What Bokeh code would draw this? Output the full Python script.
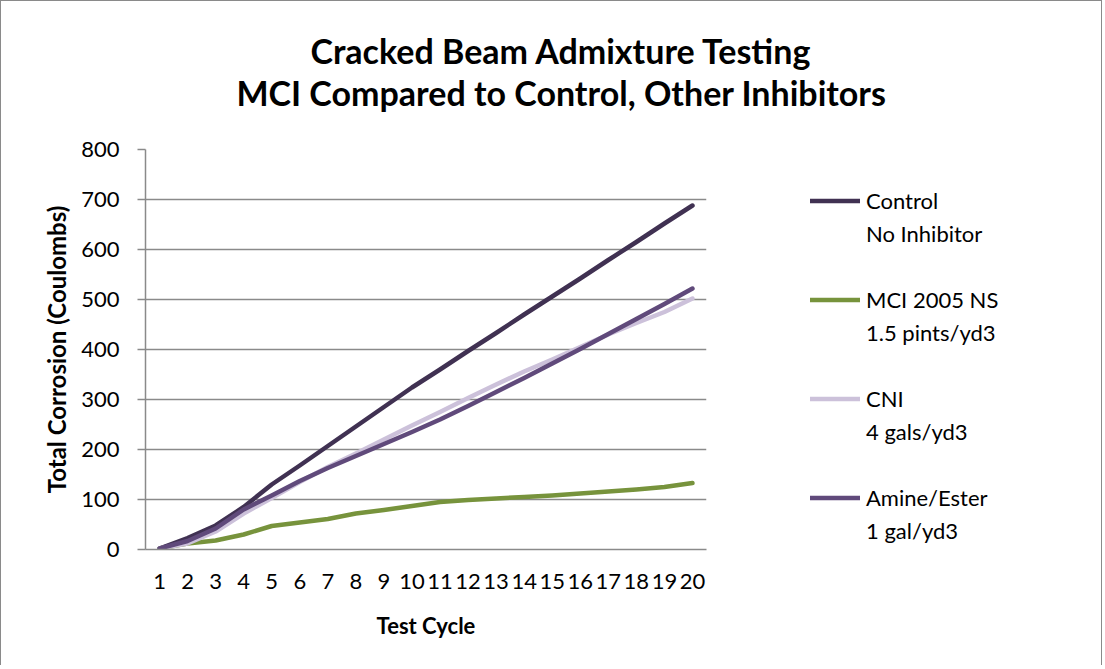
from bokeh.plotting import figure
from bokeh.layouts import column, row
from bokeh.models import (Range1d, FactorRange, Legend, LegendItem, FixedTicker,
                          ColumnDataSource, Label)
from bokeh.embed import file_html
from bokeh.resources import INLINE

cycles = [str(i) for i in range(1, 21)]
control = [2, 23, 48, 85, 130, 168, 207, 246, 285, 324, 360, 397, 433, 470, 506, 542, 579, 615, 652, 688]
mci = [2, 12, 18, 30, 47, 54, 61, 72, 79, 87, 95, 99, 102, 105, 108, 112, 116, 120, 125, 133]
cni = [2, 12, 36, 72, 103, 135, 165, 192, 220, 248, 275, 303, 330, 356, 380, 405, 430, 453, 475, 502]
amine = [2, 17, 42, 80, 108, 137, 163, 187, 211, 235, 260, 287, 315, 343, 372, 401, 431, 461, 491, 522]

series = [control, mci, cni, amine]
label_line1 = ["Control", "MCI 2005 NS", "CNI", "Amine/Ester"]
label_line2 = ["No Inhibitor", "1.5 pints/yd3", "4 gals/yd3", "1 gal/yd3"]
colors = ["#403152", "#77933C", "#CCC1DA", "#604A7B"]
y_ticks = [0, 100, 200, 300, 400, 500, 600, 700, 800]
title1 = "Cracked Beam Admixture Testing"
title2 = "MCI Compared to Control, Other Inhibitors"

FONT = "Lato"
BORDER = "1px solid #8a8a8a"
TOTAL_W = 1102
TITLE_H = 120
MAIN_W, MAIN_H = 760, 545
FL, FT, FW, FH = 144, 29, 561, 400
FB = MAIN_H - FT - FH

# ---------- title strip ----------
ft = figure(width=TOTAL_W, height=TITLE_H, x_range=Range1d(0, TOTAL_W), y_range=Range1d(0, TITLE_H),
            x_axis_type=None, y_axis_type=None, output_backend="svg", toolbar_location=None,
            min_border=0)
ft.outline_line_color = None
ft.styles = {"border-top": BORDER, "border-left": BORDER, "border-right": BORDER}
for txt, yy in ((title1, 71), (title2, 29)):
    ft.add_layout(Label(x=560, y=yy, text=txt, text_align="center", text_baseline="middle",
                        text_font=FONT, text_font_style="bold", text_font_size="34px",
                        text_color="black"))

# ---------- main chart ----------
p = figure(width=MAIN_W, height=MAIN_H, x_range=FactorRange(*cycles), y_range=Range1d(0, 800),
           output_backend="svg", toolbar_location=None,
           min_border_left=FL, min_border_top=FT,
           min_border_right=MAIN_W - FL - FW, min_border_bottom=FB)
p.styles = {"border-left": BORDER}
p.outline_line_color = None

for vals, col in zip(series, colors):
    src = ColumnDataSource(dict(x=cycles, y=vals))
    p.line("x", "y", source=src, line_color=col, line_width=4.5,
           line_join="round", line_cap="round")

p.xaxis.axis_label = "Test Cycle"
p.yaxis.axis_label = "Total Corrosion (Coulombs)"
for ax in (p.xaxis[0], p.yaxis[0]):
    ax.axis_label_text_font = FONT
    ax.axis_label_text_font_style = "bold"
    ax.axis_label_text_font_size = "22px"
    ax.axis_label_text_color = "black"
    ax.major_label_text_font = FONT
    ax.major_label_text_font_size = "22px"
    ax.major_label_text_color = "black"
    ax.axis_line_color = "#8a8a8a"
    ax.axis_line_width = 1.5
    ax.minor_tick_line_color = None
p.yaxis.axis_label_text_font_size = "24px"

p.xaxis.major_tick_line_color = None
p.xaxis.major_label_standoff = 18
p.xaxis.axis_label_standoff = 20

p.yaxis.ticker = FixedTicker(ticks=y_ticks)
p.yaxis.major_tick_line_color = "#8a8a8a"
p.yaxis.major_tick_line_width = 1.5
p.yaxis.major_tick_out = 8
p.yaxis.major_tick_in = 0
p.yaxis.major_label_standoff = 18
p.yaxis.axis_label_standoff = 7

p.xgrid.grid_line_color = None
p.ygrid.ticker = FixedTicker(ticks=y_ticks)
p.ygrid.grid_line_color = "#8a8a8a"
p.ygrid.grid_line_width = 1.5

# ---------- legend strip (frame aligned with the main plot frame) ----------
LEG_W = TOTAL_W - MAIN_W
fl = figure(width=LEG_W, height=MAIN_H, x_range=FactorRange(*cycles), y_range=Range1d(1000, 2000),
            x_axis_type=None, y_axis_type=None, output_backend="svg", toolbar_location=None,
            min_border_left=15, min_border_top=FT, min_border_right=0, min_border_bottom=FB)
fl.outline_line_color = None
fl.grid.visible = False
fl.styles = {"border-right": BORDER}

# same series drawn (out of view) so the legend swatches use real renderers
leg_renderers = [fl.line(x=cycles, y=vals, line_color=c, line_width=4.5, line_cap="round")
                 for vals, c in zip(series, colors)]
dummy = fl.line(x=cycles, y=control, line_alpha=0)

items = []
for i, r in enumerate(leg_renderers):
    items.append(LegendItem(label=label_line1[i], renderers=[r]))
    items.append(LegendItem(label=label_line2[i], renderers=[dummy]))
    if i < len(leg_renderers) - 1:
        items.append(LegendItem(label=" ", renderers=[dummy]))

legend = Legend(items=items, location="top_left", padding=0, spacing=0, margin=35,
                label_height=33, glyph_height=33, glyph_width=50, label_standoff=6,
                label_text_font=FONT, label_text_font_size="22px", label_text_color="black",
                border_line_alpha=0, background_fill_alpha=0)
fl.add_layout(legend)

layout = column(ft, row(p, fl))
open("out.html", "w").write(file_html(layout, INLINE))
